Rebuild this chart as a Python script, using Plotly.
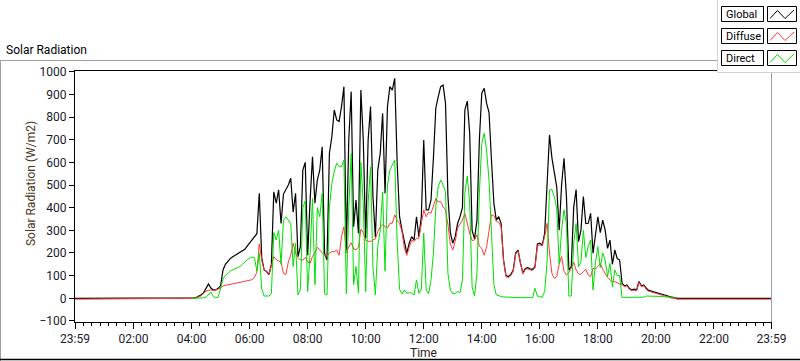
import plotly.graph_objects as go

# ---------------- data (W/m2), 5-minute samples starting 04:00 ----------------
START_MIN = 240   # 04:00 in minutes after midnight
STEP_MIN = 5

global_vals = [
    0, 2, 4, 8, 15, 25, 42, 63, 45, 37, 37, 44,                 # 04
    55, 125, 150, 165, 175, 183, 190, 196, 201, 208, 216, 230,  # 05
    245, 258, 270, 285, 463, 180, 125, 118, 105, 150, 470, 420, # 06
    478, 330, 460, 480, 500, 530, 380, 463, 184, 228, 566, 600, # 07
    190, 430, 625, 420, 522, 566, 669, 199, 169, 640, 713, 831, # 08
    787, 780, 846, 934, 213, 700, 912, 316, 434, 287, 919, 700, # 09
    265, 699, 846, 450, 270, 566, 640, 816, 463, 846, 934, 919, # 10
    971, 600, 360, 302, 257, 199, 243, 272, 257, 360, 272, 360, # 11
    699, 390, 390, 434, 620, 840, 890, 934, 941, 860, 450, 290, # 12
    243, 272, 330, 360, 400, 831, 870, 728, 300, 262, 345, 700, # 13
    905, 927, 860, 820, 610, 420, 345, 360, 330, 169, 100, 96,  # 14
    105, 125, 200, 213, 154, 112, 132, 135, 130, 128, 140, 240, # 15
    243, 235, 287, 500, 721, 620, 545, 490, 300, 500, 618, 450, # 16
    125, 140, 400, 480, 250, 300, 449, 330, 331, 375, 199, 287, # 17
    360, 290, 345, 302, 220, 257, 150, 213, 175, 169, 66, 55,   # 18
    59, 44, 37, 40, 37, 74, 55, 59, 44, 35, 32, 29,             # 19
    25, 23, 22, 18, 14, 10, 6, 3, 0, 0, 0, 0,                   # 20
]

diffuse_vals = [
    -3, 0, 3, 8, 12, 22, 32, 35, 37, 34, 36, 40,                # 04
    46, 55, 57, 59, 61, 63, 65, 67, 69, 71, 73, 75,             # 05
    78, 82, 92, 115, 240, 169, 125, 118, 105, 145, 184, 170,    # 06
    165, 160, 110, 105, 160, 190, 243, 200, 180, 169, 169, 180, # 07
    160, 154, 185, 200, 225, 213, 205, 190, 184, 200, 206, 205, # 08
    213, 190, 272, 316, 200, 228, 245, 218, 215, 225, 305, 290, # 09
    255, 252, 250, 257, 262, 295, 316, 324, 316, 310, 331, 331, # 10
    368, 345, 331, 295, 220, 190, 225, 257, 250, 265, 265, 330, # 11
    390, 360, 380, 375, 404, 440, 425, 428, 404, 390, 325, 240, # 12
    213, 250, 310, 331, 345, 375, 330, 287, 255, 257, 280, 230, # 13
    220, 190, 228, 310, 368, 365, 340, 335, 315, 165, 95, 91,   # 14
    100, 120, 195, 208, 149, 107, 127, 130, 125, 123, 135, 232, # 15
    235, 232, 272, 331, 200, 110, 88, 96, 150, 184, 120, 103,   # 16
    112, 132, 160, 125, 108, 105, 118, 128, 103, 96, 132, 130,  # 17
    140, 154, 128, 110, 92, 81, 74, 74, 68, 63, 60, 51,         # 18
    55, 40, 33, 36, 33, 70, 51, 55, 40, 31, 28, 25,             # 19
    21, 19, 18, 14, 10, 6, 2, -1, -3, -4, -4, -4,               # 20
]

direct_vals = [
    0, 0, 1, 2, 0, 2, 5, 18, 28, 8, 3, 5,                       # 04
    40, 85, 100, 110, 120, 125, 130, 135, 140, 150, 162, 170,   # 05
    177, 182, 180, 120, 199, 40, 10, 10, 10, 20, 290, 257,      # 06
    300, 150, 345, 360, 345, 330, 140, 243, 15, 40, 400, 430,   # 07
    30, 200, 440, 60, 400, 360, 463, 20, 15, 400, 507, 560,     # 08
    596, 581, 580, 610, 20, 400, 640, 60, 140, 25, 600, 420,    # 09
    30, 420, 580, 140, 15, 230, 300, 470, 120, 500, 566, 590,   # 10
    610, 250, 40, 20, 37, 22, 25, 22, 15, 81, 22, 40,           # 11
    287, 37, 20, 81, 200, 404, 493, 522, 500, 470, 110, 37,     # 12
    20, 22, 30, 25, 81, 463, 540, 420, 50, 10, 110, 463,        # 13
    684, 728, 650, 520, 250, 60, 15, 10, 8, 6, 5, 4,            # 14
    3, 3, 2, 3, 3, 4, 5, 3, 3, 2, 44, 10,                       # 15
    7, 5, 30, 160, 478, 480, 449, 394, 150, 300, 390, 330,      # 16
    10, 10, 240, 330, 140, 160, 300, 180, 228, 257, 37, 157,    # 17
    228, 136, 200, 169, 96, 154, 51, 125, 100, 100, 4, 4,       # 18
    4, 4, 4, 4, 4, 4, 4, 5, 10, 10, 8, 8,                       # 19
    8, 8, 8, 8, 6, 6, 5, 5, 4,                                  # 20
]

# night readings at the two ends of the day (minutes: 23:59 of previous day = -1)
night_times = [-1, 1439]
night_global = [0, 0]
night_diffuse = [-4, -4]

x_tick_vals = [-1, 120, 240, 360, 480, 600, 720, 840, 960, 1080, 1200, 1320, 1439]
x_tick_text = ["23:59", "02:00", "04:00", "06:00", "08:00", "10:00", "12:00",
               "14:00", "16:00", "18:00", "20:00", "22:00", "23:59"]
y_tick_vals = [-100, 0, 100, 200, 300, 400, 500, 600, 700, 800, 900, 1000]

series_names = ["Global", "Diffuse", "Direct"]
series_colors = ["#000000", "#ff3a3a", "#00e000"]
series_widths = [1.2, 1, 1]

# ---------------- build ----------------
def day_times(vals):
    return [START_MIN + STEP_MIN * i for i in range(len(vals))]

g_x = [night_times[0]] + day_times(global_vals) + [night_times[1]]
g_y = [night_global[0]] + global_vals + [night_global[1]]
d_x = [night_times[0]] + day_times(diffuse_vals) + [night_times[1]]
d_y = [night_diffuse[0]] + diffuse_vals + [night_diffuse[1]]
b_x = day_times(direct_vals)
b_y = direct_vals

FONT = "Roboto, 'Segoe UI', sans-serif"
W, H = 800, 361
ML, MR, MT, MB = 75, 28, 70, 39
PW, PH = W - ML - MR, H - MT - MB


def px(x):
    return (x - ML) / PW


def py(y):
    return (H - MB - y) / PH


fig = go.Figure()
for xs, ys, name, col, wd in [(g_x, g_y, series_names[0], series_colors[0], series_widths[0]),
                              (d_x, d_y, series_names[1], series_colors[1], series_widths[1]),
                              (b_x, b_y, series_names[2], series_colors[2], series_widths[2])]:
    fig.add_trace(go.Scatter(x=xs, y=ys, mode="lines", name=name,
                             line=dict(color=col, width=wd), hoverinfo="skip",
                             showlegend=False))

minor_vals = []
for a, b in zip(x_tick_vals[:-1], x_tick_vals[1:]):
    for k in range(1, 7):
        minor_vals.append(a + (b - a) * k / 7)

shapes = []


def line(x0, y0, x1, y1, color, width=1):
    shapes.append(dict(type="line", xref="paper", yref="paper",
                       x0=px(x0), y0=py(y0), x1=px(x1), y1=py(y1),
                       line=dict(color=color, width=width)))


def rect(x0, y0, x1, y1, color, fill, width=1):
    shapes.append(dict(type="rect", xref="paper", yref="paper",
                       x0=px(x0), y0=py(y0), x1=px(x1), y1=py(y1),
                       line=dict(color=color, width=width), fillcolor=fill))


# outer frame
line(0, 60.5, 800, 60.5, "#a0a0a0")
line(0.5, 60, 0.5, 361, "#a0a0a0")
line(0, 359.5, 800, 359.5, "#000000", 1.5)
# plot box top and right
line(75, 70.5, 772, 70.5, "#000000")
line(771.5, 70, 771.5, 322, "#a0a0a0")

# legend panel
rect(717.5, -2, 802, 72.5, "#d0d0d0", "#ffffff")
annotations = []
row_tops = [6.5, 28.5, 50.5]
for top, name, col in zip(row_tops, series_names, series_colors):
    rect(721.5, top, 763.5, top + 15, "#000000", "#ffffff")
    rect(767.5, top, 796.5, top + 15, "#000000", "#ffffff")
    pts = [(770, top + 12), (777.5, top + 4), (785, top + 12), (794, top + 3.5)]
    path = "M " + " L ".join(f"{px(a):.5f},{py(b):.5f}" for a, b in pts)
    shapes.append(dict(type="path", xref="paper", yref="paper", path=path,
                       line=dict(color=col, width=1)))
    annotations.append(dict(text=name, xref="paper", yref="paper",
                            x=px(723.5), y=py(top + 7.8), xanchor="left",
                            yanchor="middle", showarrow=False,
                            font=dict(family=FONT, size=11, color="#000000")))

# titles
annotations.append(dict(text="Solar Radiation", xref="paper", yref="paper",
                        x=px(4), y=py(50), xanchor="left", yanchor="middle",
                        showarrow=False,
                        font=dict(family=FONT, size=12, color="#000000")))
annotations.append(dict(text="Time", xref="paper", yref="paper",
                        x=px(423), y=py(353), xanchor="center",
                        yanchor="middle", showarrow=False,
                        font=dict(family=FONT, size=12, color="#2a2018")))
annotations.append(dict(text="Solar Radiation (W/m2)", xref="paper",
                        yref="paper", x=px(31), y=py(184), xanchor="center",
                        yanchor="middle", textangle=-90, showarrow=False,
                        font=dict(family=FONT, size=12, color="#4a3520")))

fig.update_layout(
    width=W, height=H,
    margin=dict(l=ML, r=MR, t=MT, b=MB, pad=0),
    paper_bgcolor="#ffffff", plot_bgcolor="#ffffff",
    font=dict(family=FONT, size=12, color="#000000"),
    shapes=shapes, annotations=annotations, showlegend=False,
    xaxis=dict(range=[-1, 1440], tickmode="array", tickvals=x_tick_vals,
               ticktext=x_tick_text, showgrid=False, zeroline=False,
               showline=True, linecolor="#000000", linewidth=1,
               ticks="outside", ticklen=6, tickcolor="#000000",
               tickfont=dict(family=FONT, size=12, color="#1a1a2a"),
               minor=dict(tickmode="array", tickvals=minor_vals,
                          ticks="outside", ticklen=3, tickcolor="#000000",
                          showgrid=False),
               fixedrange=True),
    yaxis=dict(range=[-104.6, 1007.5], tickmode="array",
               tickvals=y_tick_vals, showgrid=False, zeroline=False,
               showline=True, linecolor="#000000", linewidth=1,
               ticks="outside", ticklen=5, tickcolor="#000000",
               tickfont=dict(family=FONT, size=12, color="#1a1a2a"),
               fixedrange=True),
)

fig.write_html("out.html", config={"displayModeBar": False},
               post_script="document.body.style.margin='0';"
                           "document.body.style.overflow='hidden';")
